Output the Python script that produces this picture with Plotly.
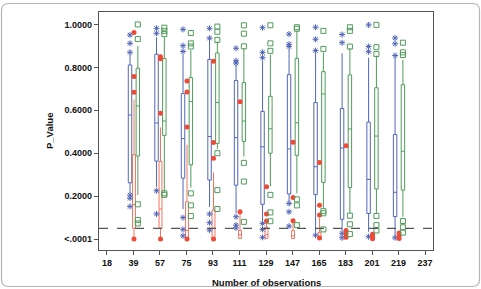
import plotly.graph_objects as go

# ---------------- data ----------------
tick_labels = ['18', '39', '57', '75', '93', '111', '129', '147', '165', '183', '201', '219', '237']
groups = ['39', '57', '75', '93', '111', '129', '147', '165', '183', '201', '219']

# Blue series
blue_lower = [0.215, 0.244, 0.140, 0.150, 0.120, 0.085, 0.175, 0.030, 0.040, 0.034, 0.012]
blue_q1    = [0.262, 0.363, 0.284, 0.275, 0.251, 0.162, 0.210, 0.207, 0.092, 0.119, 0.105]
blue_med   = [0.578, 0.541, 0.468, 0.478, 0.473, 0.430, 0.420, 0.337, 0.424, 0.278, 0.218]
blue_q3    = [0.811, 0.861, 0.678, 0.837, 0.739, 0.595, 0.766, 0.636, 0.608, 0.545, 0.487]
blue_upper = [0.860, 0.940, 0.860, 0.930, 0.810, 0.830, 0.885, 0.870, 0.865, 0.845, 0.845]
blue_out = [
    [0.951, 0.912, 0.870, 0.205, 0.190, 0.152],
    [0.982, 0.959, 0.225, 0.117],
    [0.977, 0.901, 0.874, 0.100, 0.045, 0.015],
    [0.982, 0.936, 0.117, 0.076, 0.042],
    [0.889, 0.831, 0.820, 0.104, 0.065, 0.052],
    [0.985, 0.870, 0.845, 0.073, 0.045, 0.008],
    [0.955, 0.908, 0.897, 0.166, 0.127, 0.060],
    [0.987, 0.931, 0.878, 0.018],
    [0.953, 0.915, 0.027, 0.006],
    [0.998, 0.897, 0.873, 0.011],
    [0.937, 0.910, 0.855, 0.006],
]

# Red series
red_lower = [0.0, 0.0, 0.0, 0.0, 0.0, 0.0, 0.0, 0.0, 0.0, 0.0, 0.0]
red_q1    = [0.050, 0.050, 0.003, 0.003, 0.003, 0.003, 0.003, 0.000, 0.005, 0.002, 0.002]
red_med   = [0.160, 0.140, 0.040, 0.050, 0.020, 0.020, 0.015, 0.010, 0.020, 0.010, 0.012]
red_q3    = [0.394, 0.362, 0.174, 0.135, 0.040, 0.055, 0.039, 0.030, 0.040, 0.020, 0.025]
red_upper = [0.650, 0.520, 0.440, 0.310, 0.120, 0.084, 0.085, 0.100, 0.045, 0.025, 0.030]
red_out = [
    [0.962, 0.757, 0.684, 0.0],
    [0.850, 0.840, 0.586, 0.0],
    [0.737, 0.685, 0.522, 0.0],
    [0.828, 0.450, 0.377, 0.0],
    [0.640, 0.127],
    [0.244, 0.117, 0.084],
    [0.451, 0.194, 0.085],
    [0.357, 0.157, 0.112, 0.005],
    [0.435, 0.040, 0.025, 0.008],
    [0.022, 0.010, 0.002],
    [0.028, 0.015, 0.003],
]

# Green series
green_lower = [0.205, 0.220, 0.240, 0.420, 0.385, 0.245, 0.213, 0.143, 0.120, 0.117, 0.104]
green_q1    = [0.387, 0.483, 0.346, 0.446, 0.455, 0.400, 0.390, 0.264, 0.240, 0.233, 0.228]
green_med   = [0.620, 0.550, 0.641, 0.636, 0.550, 0.514, 0.542, 0.676, 0.513, 0.480, 0.409]
green_q3    = [0.796, 0.841, 0.752, 0.867, 0.729, 0.665, 0.842, 0.780, 0.765, 0.705, 0.719]
green_upper = [0.900, 0.940, 0.880, 0.920, 0.890, 0.860, 0.970, 0.870, 0.890, 0.855, 0.835]
green_out = [
    [1.000, 0.932, 0.162, 0.089, 0.073],
    [0.985, 0.970, 0.955, 0.213, 0.206],
    [0.960, 0.912, 0.897, 0.213, 0.157, 0.107],
    [0.990, 0.966, 0.928, 0.400, 0.228, 0.140],
    [0.996, 0.957, 0.898, 0.355, 0.268, 0.080],
    [0.996, 0.912, 0.877, 0.206, 0.124, 0.083],
    [0.987, 0.980, 0.185, 0.157, 0.065],
    [0.970, 0.886, 0.130, 0.120, 0.045],
    [0.987, 0.970, 0.897, 0.109, 0.069, 0.023],
    [0.998, 0.894, 0.862, 0.108, 0.065, 0.040],
    [0.915, 0.870, 0.857, 0.084, 0.055, 0.030],
]

y_tickvals = [0.0, 0.2, 0.4, 0.6, 0.8, 1.0]
y_ticktext = ['<.0001', '0.2000', '0.4000', '0.6000', '0.8000', '1.0000']
cutoff = 0.05

# ---------------- styling ----------------
BLUE = '#5266b8'
RED = '#ee4a36'
RED_BOX = '#f27560'
GREEN = '#4f9c59'
AX = '#555555'
FONT = 'Liberation Sans, Arial, sans-serif'

W, H = 481, 289
ML, MR, MT, MB = 99, 48, 12, 39

base_pos = [tick_labels.index(g) for g in groups]

series = [
    (BLUE, BLUE, -0.13, 0.13, blue_lower, blue_q1, blue_med, blue_q3, blue_upper, blue_out,
     dict(symbol='asterisk-open', size=5, color=BLUE, line=dict(color=BLUE, width=1))),
    (RED_BOX, RED, 0.02, 0.11, red_lower, red_q1, red_med, red_q3, red_upper, red_out,
     dict(symbol='circle', size=5, color=RED, line=dict(width=0))),
    (GREEN, GREEN, 0.165, 0.13, green_lower, green_q1, green_med, green_q3, green_upper, green_out,
     dict(symbol='square-open', size=5, color=GREEN, line=dict(color=GREEN, width=1))),
]

fig = go.Figure()
for boxcol, markcol, off, wid, lo, q1, med, q3, up, outs, mk in series:
    xs = [p + off for p in base_pos]
    fig.add_trace(go.Box(
        x=xs, q1=q1, median=med, q3=q3, lowerfence=lo, upperfence=up,
        width=wid, whiskerwidth=0, boxpoints=False,
        line=dict(color=boxcol, width=1), fillcolor='white',
        showlegend=False, hoverinfo='skip'))
    ox, oy = [], []
    for p, vals in zip(xs, outs):
        for v in vals:
            ox.append(p)
            oy.append(v)
    fig.add_trace(go.Scatter(x=ox, y=oy, mode='markers', marker=mk,
                             showlegend=False, hoverinfo='skip'))

# cutoff line
fig.add_shape(type='line', xref='paper', x0=0, x1=1, yref='y', y0=cutoff, y1=cutoff,
              line=dict(color=AX, width=1.2, dash='dash'))

# outer rounded frame (pixel coords -> paper)
pw, ph = W - ML - MR, H - MT - MB
def px(x):
    return (x - ML) / pw
def py(y):
    return (H - MB - y) / ph
x0, x1, y0, y1, r = 1.5, 479.5, 3.5, 286.5, 7
path = (f"M {px(x0 + r)},{py(y0)} L {px(x1 - r)},{py(y0)} "
        f"Q {px(x1)},{py(y0)} {px(x1)},{py(y0 + r)} "
        f"L {px(x1)},{py(y1 - r)} Q {px(x1)},{py(y1)} {px(x1 - r)},{py(y1)} "
        f"L {px(x0 + r)},{py(y1)} Q {px(x0)},{py(y1)} {px(x0)},{py(y1 - r)} "
        f"L {px(x0)},{py(y0 + r)} Q {px(x0)},{py(y0)} {px(x0 + r)},{py(y0)} Z")
fig.add_shape(type='path', xref='paper', yref='paper', path=path,
              line=dict(color='#b5b5b5', width=1.2), layer='below')

fig.add_annotation(text='Number of observations', xref='paper', yref='paper',
                   x=0.5, y=py(282), xanchor='center', yanchor='middle', showarrow=False,
                   font=dict(family=FONT, size=9.5, color='#111111', weight='bold'))
fig.add_annotation(text='P_Value', xref='paper', yref='paper',
                   x=px(49), y=0.5, xanchor='center', yanchor='middle', showarrow=False,
                   textangle=-90,
                   font=dict(family=FONT, size=9.5, color='#111111', weight='bold'))

fig.update_layout(
    width=W, height=H,
    margin=dict(l=ML, r=MR, t=MT, b=MB, pad=0),
    paper_bgcolor='white', plot_bgcolor='white',
    boxmode='overlay',
    font=dict(family=FONT, size=9, color='#111111'),
    xaxis=dict(range=[-0.3, 12.3], tickmode='array',
               tickvals=list(range(len(tick_labels))), ticktext=tick_labels,
               showgrid=False, zeroline=False, showline=True, mirror=True,
               linecolor=AX, linewidth=1.3, ticks='outside', ticklen=4,
               tickcolor=AX, tickwidth=1,
               tickfont=dict(family=FONT, size=9, color='#111111', weight='bold')),
    yaxis=dict(range=[-0.051, 1.058], tickmode='array',
               tickvals=y_tickvals, ticktext=y_ticktext,
               showgrid=False, zeroline=False, showline=True, mirror=True,
               linecolor=AX, linewidth=1.3, ticks='outside', ticklen=4,
               tickcolor=AX, tickwidth=1,
               tickfont=dict(family=FONT, size=9, color='#111111', weight='bold')),
)

fig.write_html('out.html')
